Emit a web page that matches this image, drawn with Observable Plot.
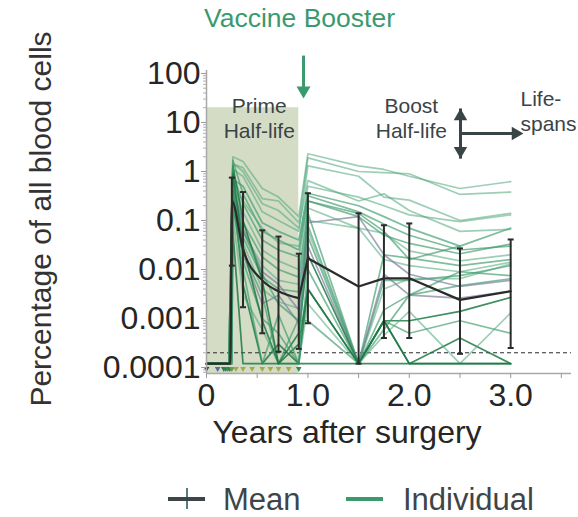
<!DOCTYPE html>
<html><head><meta charset="utf-8">
<script src="https://cdn.jsdelivr.net/npm/d3@7"></script>
<script src="https://cdn.jsdelivr.net/npm/@observablehq/plot@0.6"></script>
<style>
html,body{margin:0;padding:0;background:#fff;}
#chart{width:578px;height:517px;overflow:hidden;font-family:"Liberation Sans",Arial,sans-serif;}
#chart svg{display:block;}
</style></head><body><div id="chart"></div>
<script>
// ---------- data ----------
const F = 0.00012;                 // detection floor (%)
const threshold = 0.0002;          // dashed detection limit
const primeTimes = [0.26, 0.36, 0.55, 0.71, 0.91];
const boostTimes = [1.0, 1.5, 1.75, 2.0, 2.5, 3.0];

const individuals = [
  {id:"01", rise:0.23, group:"light", prime:[2.0, 1.6, 0.45, 0.3, 0.12],     boost:[2.3, 1.3, 1.1, 0.8, 0.45, 0.62]},
  {id:"02", rise:0.24, group:"light", prime:[1.4, 1.2, 0.28, 0.25, 0.09],    boost:[1.9, 1.0, 0.95, 0.9, 0.34, 0.38]},
  {id:"03", rise:0.23, group:"light", prime:[1.1, 0.8, 0.15, 0.1, 0.06],     boost:[1.3, 0.8, 0.3, 0.26, 0.1, 0.14]},
  {id:"04", rise:0.24, group:"mid",   prime:[0.7, 0.5, 0.09, 0.06, 0.04],    boost:[0.36, 0.2, 0.12, 0.07, 0.03, 0.07]},
  {id:"05", rise:0.22, group:"mid",   prime:[1.7, 0.35, 0.06, 0.04, 0.025],  boost:[0.32, 0.15, 0.085, 0.05, 0.025, 0.03]},
  {id:"06", rise:0.23, group:"mid",   prime:[0.9, 0.22, 0.04, 0.025, 0.018], boost:[0.25, 0.12, 0.05, 0.034, 0.021, 0.033]},
  {id:"07", rise:0.24, group:"light", prime:[0.75, 0.15, 0.025, 0.015, 0.01],boost:[0.18, 0.07, 0.055, 0.024, 0.015, 0.02]},
  {id:"08", rise:0.23, group:"mid",   prime:[0.45, 0.09, 0.018, 0.01, 0.007],boost:[0.14, F, 0.02, 0.017, 0.012, 0.016]},
  {id:"09", rise:0.22, group:"light", prime:[1.2, 0.06, 0.012, 0.006, 0.005],boost:[0.1, 0.07, 0.016, 0.012, 0.009, 0.014]},
  {id:"10", rise:0.24, group:"mid",   prime:[0.35, 0.045, 0.007, 0.004, 0.0035], boost:[0.08, F, 0.006, 0.006, 0.0075, 0.012]},
  {id:"11", rise:0.23, group:"light", prime:[0.25, 0.035, 0.004, 0.0022, 0.0016], boost:[0.063, F, 0.004, 0.0065, 0.0065, 0.013]},
  {id:"12", rise:0.25, group:"mid",   prime:[0.18, 0.022, 0.003, F, 0.001],  boost:[0.047, F, 0.0015, 0.003, 0.0047, 0.0065]},
  {id:"13", rise:0.23, group:"purple",prime:[0.5, 0.07, 0.009, 0.005, 0.0015], boost:[0.09, 0.12, 0.02, 0.008, 0.0045, 0.006]},
  {id:"14", rise:0.24, group:"purple",prime:[0.3, 0.02, 0.002, 0.003, 0.0008], boost:[0.03, F, 0.008, 0.003, 0.0026, 0.0036]},
  {id:"15", rise:0.22, group:"dark",  prime:[1.3, 0.1, 0.006, F, 0.0005],    boost:[0.02, F, 0.0009, 0.0009, 0.0014, 0.0027]},
  {id:"16", rise:0.23, group:"mid",   prime:[0.85, 0.015, 0.001, 0.0005, F], boost:[0.01, F, 0.0009, 0.0005, 0.0009, 0.0005]},
  {id:"17", rise:0.24, group:"dark",  prime:[0.4, 0.005, F, 0.0003, F],      boost:[0.004, F, 0.0009, F, 0.0004, F]},
  {id:"18", rise:0.25, group:"light", prime:[0.12, 0.003, 0.0006, F, F],     boost:[0.002, F, 0.00045, 0.0014, F, 0.0013]},
  {id:"19", rise:0.24, group:"dark",  prime:[0.06, F, F, F, F],              boost:[F, F, F, F, F, F]},
  {id:"20", rise:0.23, group:"light", prime:[0.6, 0.25, 0.07, 0.035, 0.03],  boost:[0.5, 0.3, 0.2, 0.13, 0.095, 0.13]},
  {id:"21", rise:0.24, group:"mid",   prime:[0.4, 0.06, 0.008, 0.002, 0.0009], boost:[0.0009, F, null, 0.003, 0.009, 0.0075]},
  {id:"22", rise:0.22, group:"light", prime:[1.5, 1.0, 0.22, 0.16, 0.07],    boost:[0.65, 0.25, 0.35, 0.16, 0.06, 0.066]},
  {id:"23", rise:0.23, group:"dark",  prime:[0.9, 0.03, 0.0009, F, 0.0003],  boost:[0.004, F, 0.0009, F, F, F]},
  {id:"24", rise:0.25, group:"mid",   prime:[0.2, 0.01, F, 0.0012, F],       boost:[0.25, 0.14, 0.06, 0.016, 0.03, null]}
];
const groupColors   = {light:"#4fa67a", mid:"#3a9a6a", dark:"#1f7a45", purple:"#7d7f9e"};
const groupOpacity  = {light:0.55, mid:0.65, dark:0.85, purple:0.7};

const meanPrimeTimes  = [0, 0.235, 0.25, 0.36, 0.55, 0.71, 0.91];
const meanPrimeValues = [F, F, 0.25, 0.026, 0.006, 0.0036, 0.0026];
const meanBoostTimes  = [0.91, 1.0, 1.5, 1.75, 2.0, 2.5, 3.0];
const meanBoostValues = [0.0026, 0.017, 0.0045, 0.0066, 0.0066, 0.0024, 0.0036];
const errTimes = [0.25, 0.36, 0.55, 0.71, 0.91, 1.0, 1.5, 1.75, 2.0, 2.5, 3.0];
const errLow   = [0.012, 0.0017, 0.0005, 0.00021, 0.00024, 0.0008, 0.00012, 0.0004, 0.0004, 0.00019, 0.00025];
const errHigh  = [0.75, 0.38, 0.063, 0.047, 0.021, 0.36, 0.14, 0.08, 0.087, 0.027, 0.041];

const triTimes  = [0, 0.11, 0.17, 0.19, 0.21, 0.23, 0.25, 0.29, 0.36, 0.45, 0.55, 0.63, 0.71, 0.81, 0.91];
const triColors = ["#2f3a3a","#5a6a9a","#2e7d4f","#2e7d4f","#3d8a55","#2e7d4f","#6f9a4a","#a3a84a","#a8a84a","#a8a84a","#a8a84a","#a8a84a","#a8a84a","#a8a84a","#2e8a5a"];
const triValue = 0.000095;

const primeWindow = [{start:0, end:0.91, top:20}];

const yMajorTicks  = [0.0001, 0.001, 0.01, 0.1, 1, 10, 100];
const yTickLabels  = ["0.0001", "0.001", "0.01", "0.1", "1", "10", "100"];
const xTicks       = [0, 0.5, 1, 1.5, 2, 2.5, 3, 3.5];
const xTickLabels  = ["0", "", "1.0", "", "2.0", "", "3.0", ""];

const phaseLabels = [
  {x:0.52, y:12.6, text:"Prime\nHalf-life"},
  {x:2.02, y:12.6, text:"Boost\nHalf-life"}
];
const lifeLabel = [{x:3.097, y:17.6, text:"Life-\nspans"}];
const title = [{x:0.917, y:1350, text:"Vaccine Booster"}];
const shafts = [
  {x1:0.957, y1:232, x2:0.957, y2:40, c:"#3a9a6e"},
  {x1:2.505, y1:19.3, x2:2.505, y2:1.83, c:"#3a4446"},
  {x1:2.505, y1:5.96, x2:3.07, y2:5.96, c:"#3a4446"}
];

// ---------- derived tables ----------
const yDomain = [0.0000755, 115];
const minorTicks = [];
for (let e = -5; e <= 2; e++) for (let k = 2; k <= 9; k++) {
  const v = k * Math.pow(10, e);
  if (v > yDomain[0] && v < yDomain[1]) minorTicks.push(v);
}
const indRows = [];
for (const ind of individuals) {
  indRows.push({id:ind.id, t:0, v:F, g:ind.group});
  indRows.push({id:ind.id, t:ind.rise, v:F, g:ind.group});
  ind.prime.forEach((v,i) => { if (v != null) indRows.push({id:ind.id, t:primeTimes[i], v, g:ind.group}); });
  ind.boost.forEach((v,i) => { if (v != null) indRows.push({id:ind.id, t:boostTimes[i], v, g:ind.group}); });
}
const meanPrimeRows = meanPrimeTimes.map((t,i) => ({t, v:meanPrimeValues[i]}));
const meanBoostRows = meanBoostTimes.map((t,i) => ({t, v:meanBoostValues[i]}));
const errRows = errTimes.map((t,i) => ({t, lo:errLow[i], hi:errHigh[i]}));
const capRows = errRows.flatMap(d => [{t:d.t, v:d.lo}, {t:d.t, v:d.hi}]);
const triRows = triTimes.map((t,i) => ({t, c:triColors[i]}));

const capSymbol = {draw(ctx, size){ const w = Math.sqrt(size/Math.PI); ctx.moveTo(-w,0); ctx.lineTo(w,0); }};
const FONT = '"Liberation Sans", Arial, sans-serif';
const txt = "#3a4446";

const plot = Plot.plot({
  width: 578, height: 462,
  marginLeft: 206, marginRight: 7, marginTop: 70, marginBottom: 89,
  style: {fontFamily: FONT, background: "transparent", overflow: "visible"},
  x: {domain: [0, 3.6]},
  y: {type: "log", domain: yDomain},
  color: {type: "identity"},
  marks: [
    Plot.rect(primeWindow, {x1:"start", x2:"end", y1:() => yDomain[0], y2:"top", fill:"#d4dcc6"}),
    Plot.ruleY([threshold], {stroke:"#2a2a2a", strokeWidth:1, strokeDasharray:"4,3"}),
    Plot.line(indRows, {x:"t", y:"v", z:"id", stroke: d => groupColors[d.g], strokeOpacity: d => groupOpacity[d.g], strokeWidth:1.7}),
    Plot.line(meanPrimeRows, {x:"t", y:"v", stroke:"#2b2b2b", strokeWidth:2.2, curve:"monotone-x"}),
    Plot.line(meanBoostRows, {x:"t", y:"v", stroke:"#2b2b2b", strokeWidth:2.2}),
    Plot.ruleX(errRows, {x:"t", y1:"lo", y2:"hi", stroke:"#2b2b2b", strokeWidth:2}),
    Plot.dot(capRows, {x:"t", y:"v", symbol:capSymbol, r:3, stroke:"#2b2b2b", strokeWidth:2}),
    Plot.dot(triRows, {x:"t", y:() => triValue, symbol:"triangle", rotate:180, r:2.1, fill:"c", stroke:"none"}),
    Plot.ruleX([0], {stroke:"#a8a8a8", strokeWidth:1.5}),
    Plot.ruleY([yDomain[0]], {stroke:"#a8a8a8", strokeWidth:1.5}),
    Plot.axisY({ticks:minorTicks, tickFormat:() => "", tickSize:3, stroke:"#b0b0b0", label:null}),
    Plot.axisY({ticks:yMajorTicks, tickFormat:d => yTickLabels[yMajorTicks.indexOf(d)], tickSize:5, tickPadding:1,
                fontSize:32, stroke:"#9a9a9a", fill:"#262626", label:null}),
    Plot.axisX({ticks:xTicks, tickFormat:d => xTickLabels[xTicks.indexOf(d)], tickSize:5, tickPadding:5,
                fontSize:32, stroke:"#9a9a9a", fill:"#262626", label:null}),
    Plot.text(["Years after surgery"], {frameAnchor:"bottom", text:d => d, dx:-42, dy:58.8, fontSize:32, fill:"#262626", textAnchor:"middle", lineAnchor:"middle"}),
    Plot.text(["Percentage of all blood cells"], {frameAnchor:"left", text:d => d, rotate:-90, dx:-165.6, dy:-3, fontSize:30, fill:"#333", textAnchor:"middle", lineAnchor:"middle"}),
    Plot.text(phaseLabels, {x:"x", y:"y", text:"text", textAnchor:"middle", fontSize:21, lineHeight:1.2, fill:txt, lineAnchor:"middle"}),
    Plot.text(lifeLabel, {x:"x", y:"y", text:"text", textAnchor:"start", fontSize:21, lineHeight:1.2, fill:txt, lineAnchor:"middle"}),
    Plot.text(title, {x:"x", y:"y", text:"text", fontSize:26.5, fill:"#3a9a6e", lineAnchor:"middle"}),
    Plot.link(shafts, {x1:"x1", y1:"y1", x2:"x2", y2:"y2", stroke:"c", strokeWidth:3}),
    Plot.dot([shafts[0]], {x:"x1", y:() => 30.8, symbol:"triangle", rotate:180, r:5.2, dy:-8.1, fill:"#3a9a6e", stroke:"none"}),
    Plot.dot([shafts[1]], {x:"x1", y:"y1", symbol:"triangle", rotate:0, r:5, dy:7.8, fill:"#3a4446", stroke:"none"}),
    Plot.dot([shafts[1]], {x:"x1", y:"y2", symbol:"triangle", rotate:180, r:5, dy:-7.8, fill:"#3a4446", stroke:"none"}),
    Plot.dot([shafts[2]], {x:() => 3.126, y:"y2", symbol:"triangle", rotate:90, r:5, dx:-7.8, fill:"#3a4446", stroke:"none"})
  ]
});
const root = document.getElementById("chart");
root.appendChild(plot);

// legend
const leg = d3.create("svg").attr("width", 578).attr("height", 55).style("display","block");
leg.append("line").attr("x1",168).attr("x2",205).attr("y1",37).attr("y2",37).attr("stroke","#3d4548").attr("stroke-width",4);
leg.append("line").attr("x1",187).attr("x2",187).attr("y1",26).attr("y2",47).attr("stroke","#1f4f50").attr("stroke-width",1.5);
leg.append("text").attr("x",223).attr("y",48).attr("font-size",31).attr("fill","#3d4548").attr("font-family",FONT).text("Mean");
leg.append("line").attr("x1",346).attr("x2",383).attr("y1",37).attr("y2",37).attr("stroke","#3a9a6e").attr("stroke-width",4);
leg.append("text").attr("x",403).attr("y",48).attr("font-size",31).attr("fill","#3d4548").attr("font-family",FONT).text("Individual");
root.appendChild(leg.node());
</script></body></html>
